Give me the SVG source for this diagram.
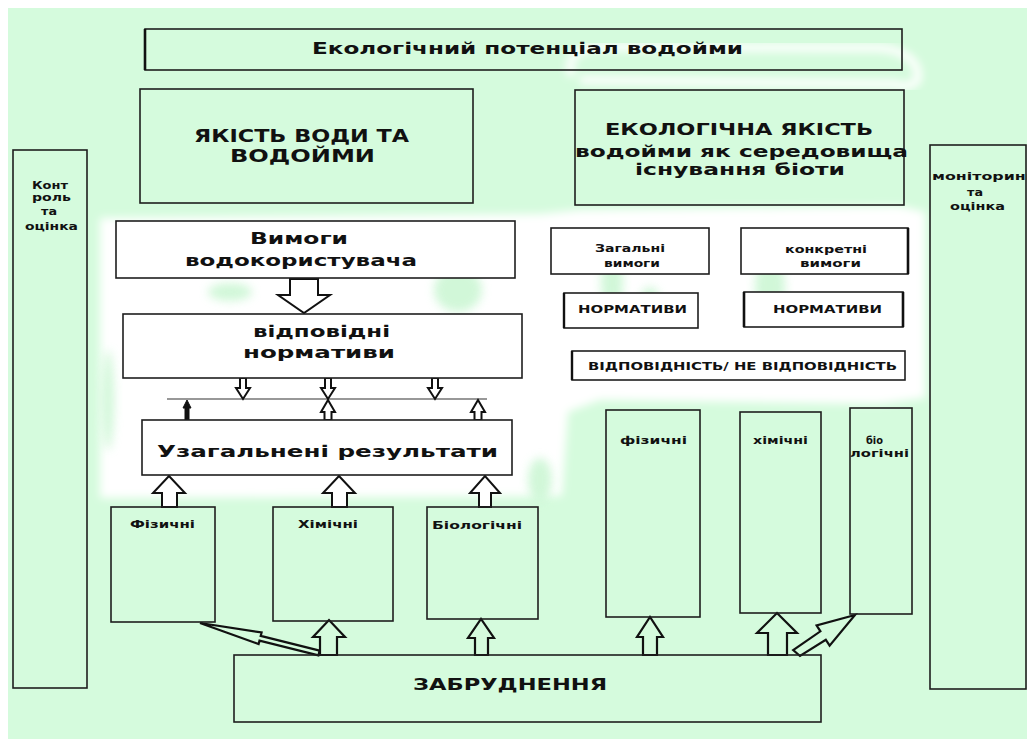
<svg xmlns="http://www.w3.org/2000/svg" width="1027" height="740" viewBox="0 0 1027 740">
<defs>
<style>
.bx{fill:none;stroke:#1e1e1e;stroke-width:1.6}
.bw{fill:#ffffff;stroke:#1e1e1e;stroke-width:1.6}
.t{font-family:"DejaVu Sans","Verdana",sans-serif;font-weight:bold;fill:#111}
.ar{fill:#ffffff;stroke:#111;stroke-width:2;stroke-linejoin:miter}
.arg{fill:#d5fbdd;stroke:#111;stroke-width:2.2;stroke-linejoin:miter}
.ln{stroke:#333;stroke-width:1.2;fill:none}
</style>
<filter id="soft" x="-10%" y="-10%" width="120%" height="120%"><feGaussianBlur stdDeviation="4"/></filter>
<filter id="soft2" x="-30%" y="-30%" width="160%" height="160%"><feGaussianBlur stdDeviation="5"/></filter>
</defs>
<rect x="0" y="0" width="1027" height="740" fill="#ffffff"/>
<rect x="8" y="8" width="1019" height="731" fill="#d5fbdd"/>
<g id="whiteout">
<path filter="url(#soft)" fill="#ffffff" d="M100 218 L540 214 L580 210 L900 206 L925 212 L925 398 L880 404 L600 400 L568 412 L562 496 L100 498 Z"/>
<path filter="url(#soft)" fill="none" stroke="#ffffff" stroke-width="8" d="M572 76 C 566 60, 575 48, 600 47 L 880 48 C 905 50, 918 62, 918 76 C 918 86, 905 88, 895 84 L 580 80"/>
<g filter="url(#soft2)" fill="#c9f6d2" opacity="0.85">
<ellipse cx="458" cy="290" rx="24" ry="22"/>
<ellipse cx="168" cy="350" rx="14" ry="10"/>
<ellipse cx="230" cy="292" rx="22" ry="9"/>
<ellipse cx="108" cy="400" rx="6" ry="50"/>
<ellipse cx="612" cy="282" rx="11" ry="34"/>
<ellipse cx="650" cy="302" rx="10" ry="15"/>
<ellipse cx="770" cy="287" rx="15" ry="32"/>
<ellipse cx="815" cy="252" rx="8" ry="14"/>
<ellipse cx="400" cy="345" rx="18" ry="9"/>
<ellipse cx="540" cy="480" rx="12" ry="22"/>
</g>
</g>
<g id="connectors">
<line class="ln" x1="167" y1="399" x2="487" y2="399"/>
<polygon class="ar" points="290,279 318,279 318,295 330,295 304,313 278,295 290,295"/>
<polygon class="ar" points="240,378 246,378 246,388 250,388 243,399 236,388 240,388"/>
<polygon class="ar" points="325,378 331,378 331,388 335,388 328,399 321,388 325,388"/>
<polygon class="ar" points="432,378 438,378 438,388 442,388 435,399 428,388 432,388"/>
<polygon fill="#111" stroke="#111" stroke-width="1" points="185,420 189,420 189,408 191,408 187,400 183,408 185,408"/>
<polygon class="ar" points="324.5,420 331.5,420 331.5,412 335,412 328,400 321,412 324.5,412"/>
<polygon class="ar" points="474.5,420 481.5,420 481.5,412 485,412 478,400 471,412 474.5,412"/>
<polygon class="ar" points="162,507 177,507 177,493 185,493 169,476 153,493 162,493"/>
<polygon class="ar" points="332,507 347,507 347,493 355,493 339,476 323,493 332,493"/>
<polygon class="ar" points="479,507 491,507 491,493 500,493 485,476 470,493 479,493"/>
<polygon class="arg" points="320,655 337,655 337,637 345,637 329,620 313,637 320,637"/>
<polygon class="arg" points="475,655 488,655 488,638 494,638 481,619 468,638 475,638"/>
<polygon class="arg" points="643,655 657,655 657,637 663,637 650,617 637,637 643,637"/>
<polygon class="arg" points="768,655 787,655 787,633 797,633 777,613 757,633 768,633"/>
<polygon class="arg" points="200,623 261.6,632.5 260.7,635.9 319.6,650.6 318.4,655.4 259.5,640.7 258.6,644.1"/>
<polygon class="arg" points="855,615 816.6,625.4 820.4,631.3 793.2,650 800,656 825.8,639.7 829.6,645.6"/>
</g>
<g id="title">
<rect class="bx" x="145" y="29" width="757" height="41"/>
<line x1="145" y1="29" x2="145" y2="70" stroke="#111" stroke-width="2.6"/>
<text class="t" x="312" y="54" font-size="15" textLength="431" lengthAdjust="spacingAndGlyphs">Екологічний потенціал водойми</text>
</g>
<g id="water-quality">
<rect class="bx" x="140" y="89" width="333" height="114"/>
<text class="t" x="194" y="142" font-size="18" textLength="215" lengthAdjust="spacingAndGlyphs">ЯКІСТЬ ВОДИ ТА</text>
<text class="t" x="230" y="162" font-size="18" textLength="145" lengthAdjust="spacingAndGlyphs">ВОДОЙМИ</text>
</g>
<g id="eco-quality">
<rect class="bx" x="575" y="90" width="329" height="115"/>
<text class="t" x="605" y="135" font-size="16" textLength="268" lengthAdjust="spacingAndGlyphs">ЕКОЛОГІЧНА ЯКІСТЬ</text>
<text class="t" x="575" y="157" font-size="16" textLength="333" lengthAdjust="spacingAndGlyphs">водойми як середовища</text>
<text class="t" x="635" y="175" font-size="16" textLength="210" lengthAdjust="spacingAndGlyphs">існування біоти</text>
</g>
<g id="control">
<rect class="bx" x="13" y="150" width="74" height="538"/>
<text class="t" x="32" y="189" font-size="10" textLength="36" lengthAdjust="spacingAndGlyphs">Конт</text>
<text class="t" x="32" y="201" font-size="10" textLength="39" lengthAdjust="spacingAndGlyphs">роль</text>
<text class="t" x="41" y="215" font-size="10" textLength="16" lengthAdjust="spacingAndGlyphs">та</text>
<text class="t" x="25" y="230" font-size="10" textLength="53" lengthAdjust="spacingAndGlyphs">оцінка</text>
</g>
<g id="monitoring">
<rect class="bx" x="930" y="145" width="96" height="544"/>
<text class="t" x="932" y="180" font-size="10" textLength="102" lengthAdjust="spacingAndGlyphs">моніторинг</text>
<text class="t" x="967" y="196" font-size="10" textLength="16" lengthAdjust="spacingAndGlyphs">та</text>
<text class="t" x="950" y="210" font-size="10" textLength="55" lengthAdjust="spacingAndGlyphs">оцінка</text>
</g>
<g id="user-req">
<rect class="bw" x="116" y="221" width="399" height="57"/>
<text class="t" x="250" y="244" font-size="15" textLength="98" lengthAdjust="spacingAndGlyphs">Вимоги</text>
<text class="t" x="185" y="266" font-size="15" textLength="232" lengthAdjust="spacingAndGlyphs">водокористувача</text>
</g>
<g id="norms-left">
<rect class="bw" x="123" y="314" width="399" height="64"/>
<text class="t" x="253" y="337" font-size="16" textLength="137" lengthAdjust="spacingAndGlyphs">відповідні</text>
<text class="t" x="243" y="358" font-size="16" textLength="152" lengthAdjust="spacingAndGlyphs">нормативи</text>
</g>
<g id="results">
<rect class="bw" x="142" y="420" width="370" height="55"/>
<text class="t" x="157" y="457" font-size="16" textLength="341" lengthAdjust="spacingAndGlyphs">Узагальнені результати</text>
</g>
<g id="phys-left">
<rect class="bx" x="111" y="507" width="104" height="115"/>
<text class="t" x="130" y="528" font-size="11" textLength="65" lengthAdjust="spacingAndGlyphs">Фізичні</text>
</g>
<g id="chem-left">
<rect class="bx" x="273" y="507" width="120" height="114"/>
<text class="t" x="298" y="528" font-size="11" textLength="60" lengthAdjust="spacingAndGlyphs">Хімічні</text>
</g>
<g id="bio-left">
<rect class="bx" x="427" y="507" width="111" height="112"/>
<text class="t" x="432" y="529" font-size="11" textLength="90" lengthAdjust="spacingAndGlyphs">Біологічні</text>
</g>
<g id="pollution">
<rect class="bx" x="234" y="655" width="587" height="67"/>
<text class="t" x="413" y="690" font-size="16" textLength="194" lengthAdjust="spacingAndGlyphs">ЗАБРУДНЕННЯ</text>
</g>
<g id="general-req">
<rect class="bw" x="551" y="228" width="158" height="46"/>
<text class="t" x="595" y="252" font-size="10.5" textLength="70" lengthAdjust="spacingAndGlyphs">Загальні</text>
<text class="t" x="604" y="267" font-size="10.5" textLength="56" lengthAdjust="spacingAndGlyphs">вимоги</text>
</g>
<g id="specific-req">
<rect class="bw" x="741" y="228" width="167" height="46"/>
<line x1="908" y1="228" x2="908" y2="274" stroke="#111" stroke-width="2.6"/>
<text class="t" x="785" y="253" font-size="10.5" textLength="82" lengthAdjust="spacingAndGlyphs">конкретні</text>
<text class="t" x="800" y="267" font-size="10.5" textLength="61" lengthAdjust="spacingAndGlyphs">вимоги</text>
</g>
<g id="norms-1">
<rect class="bw" x="564" y="293" width="134" height="35"/>
<line x1="564" y1="293" x2="564" y2="328" stroke="#111" stroke-width="2.4"/>
<text class="t" x="578" y="313" font-size="10" textLength="109" lengthAdjust="spacingAndGlyphs">НОРМАТИВИ</text>
</g>
<g id="norms-2">
<rect class="bw" x="744" y="292" width="159" height="35"/>
<line x1="744" y1="292" x2="744" y2="327" stroke="#111" stroke-width="2.6"/>
<line x1="903" y1="292" x2="903" y2="327" stroke="#111" stroke-width="2.6"/>
<text class="t" x="773" y="313" font-size="10" textLength="109" lengthAdjust="spacingAndGlyphs">НОРМАТИВИ</text>
</g>
<g id="compliance">
<rect class="bw" x="572" y="351" width="333" height="29"/>
<line x1="572" y1="351" x2="572" y2="380" stroke="#111" stroke-width="2.4"/>
<text class="t" x="588" y="370" font-size="10" textLength="309" lengthAdjust="spacingAndGlyphs">ВІДПОВІДНІСТЬ/ НЕ ВІДПОВІДНІСТЬ</text>
</g>
<g id="phys-right">
<rect class="bx" x="606" y="410" width="94" height="207"/>
<text class="t" x="620" y="444" font-size="11" textLength="67" lengthAdjust="spacingAndGlyphs">фізичні</text>
</g>
<g id="chem-right">
<rect class="bx" x="740" y="412" width="81" height="201"/>
<text class="t" x="753" y="444" font-size="11" textLength="55" lengthAdjust="spacingAndGlyphs">хімічні</text>
</g>
<g id="bio-right">
<rect class="bx" x="850" y="408" width="62" height="206"/>
<text class="t" x="866" y="444" font-size="11" textLength="17" lengthAdjust="spacingAndGlyphs">біо</text>
<text class="t" x="850" y="457" font-size="11" textLength="59" lengthAdjust="spacingAndGlyphs">логічні</text>
</g>
</svg>
